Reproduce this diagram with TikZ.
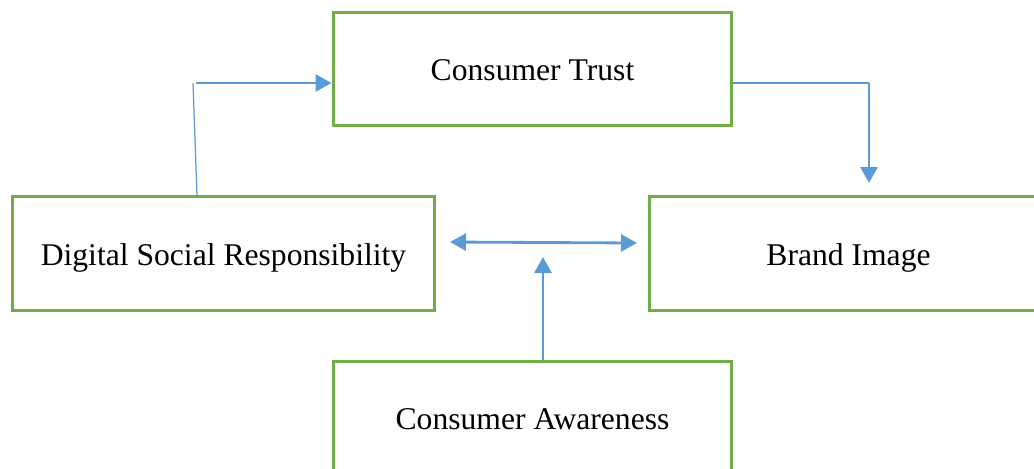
\documentclass[tikz,border=0pt]{standalone}
\usepackage{fontspec}
\setmainfont{Liberation Serif}
\usepackage{xcolor}
\usepackage{tikz}
\usetikzlibrary{arrows.meta}
\usetikzlibrary{positioning}
\definecolor{boxgreen}{RGB}{112,173,71}
\definecolor{linkblue}{RGB}{91,155,213}
\tikzset{
    conceptbox/.style = {rectangle, draw=boxgreen, line width=1.7pt, align=center, fill=white,
        minimum width=7.98cm, minimum height=2.27cm, text height=12.6pt, text depth=0pt,
        font=\fontsize{18}{22}\selectfont},
}

\begin{document}
\begin{tikzpicture}[x=0.02cm, y=-0.02cm]
\tikzset{
    linkthin/.style = {-, linkblue, line width=0.7pt},
    linkarrow/.style = {-{Triangle[length=0.32cm,width=0.34cm]}, linkblue, line width=1.6pt},
    linkboth/.style = {{Triangle[length=0.32cm,width=0.34cm]}-{Triangle[length=0.32cm,width=0.34cm]}, linkblue, line width=1.6pt},
}
\useasboundingbox (0,0) rectangle (1034,468);
\node[conceptbox] at (532.5,69) (trust) {Consumer Trust};
\node[conceptbox, minimum width=8.46cm, text height=13.8pt] at (223.5,253.5) (dsr) {Digital Social Responsibility};
\node[conceptbox, text height=13.8pt] at (848.5,253.5) (brand) {Brand Image};
\node[conceptbox] at (532.5,418) (aware) {Consumer Awareness};
%
\coordinate (up) at (193,83);
\coordinate (over) at (869,83);
\coordinate (downtip) at (869,183);
\coordinate (leftend) at (450,242);
\coordinate (rightend) at (637,243);
\coordinate (awaretip) at (543,257);
%
\draw[linkthin] (dsr.north -| 197,0) -- (up);
\draw[linkarrow] (up -| 196,0) -- (trust.west |- up);
\draw[linkthin] (trust.east |- over) -- (over);
\draw[linkarrow] (over) -- (downtip);
\draw[linkboth] (leftend) -- (rightend);
\draw[linkarrow] (aware.north -| awaretip) -- (awaretip);
\end{tikzpicture}
\end{document}
